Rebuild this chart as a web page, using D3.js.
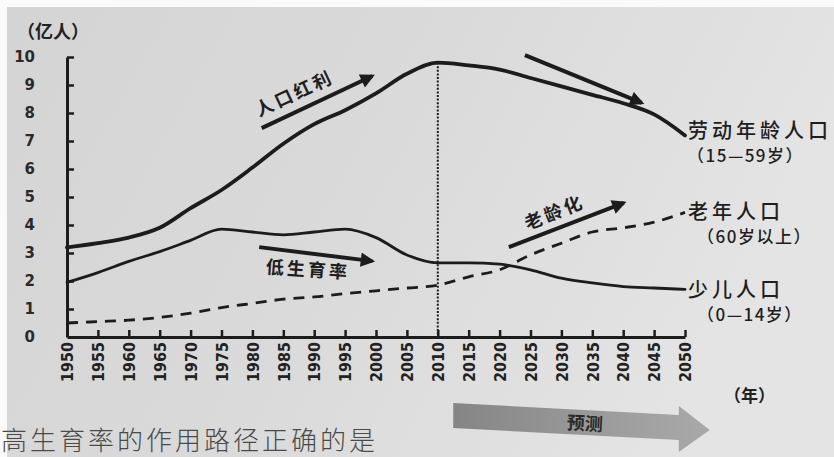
<!DOCTYPE html>
<html><head><meta charset="utf-8">
<script src="https://cdn.jsdelivr.net/npm/d3@7/dist/d3.min.js"></script>
<style>
html,body{margin:0;padding:0;background:#fff;}
svg{display:block;}
</style></head>
<body>
<svg id="c" width="834" height="457"></svg>
<script>
// ---- data (亿人) ----
const years = [1950,1955,1960,1965,1970,1975,1980,1985,1990,1995,2000,2005,2010,2015,2020,2025,2030,2035,2040,2045,2050];
const labor = [3.2,3.35,3.55,3.9,4.6,5.25,6.05,6.9,7.6,8.1,8.7,9.4,9.8,9.7,9.55,9.25,8.95,8.65,8.35,7.95,7.2];
const youth = [1.95,2.3,2.7,3.05,3.45,3.85,3.75,3.65,3.75,3.85,3.55,2.93,2.65,2.65,2.6,2.4,2.1,1.93,1.8,1.75,1.7];
const elderly = [0.5,0.55,0.6,0.7,0.85,1.05,1.2,1.35,1.43,1.55,1.65,1.75,1.85,2.15,2.4,2.93,3.35,3.75,3.9,4.1,4.45];
const yTicks = [0,1,2,3,4,5,6,7,8,9,10];
const forecastStart = 2010;
const seriesLabels = [
  {name:"劳动年龄人口", sub:"（15—59岁）"},
  {name:"老年人口", sub:"（60岁以上）"},
  {name:"少儿人口", sub:"（0—14岁）"}
];

const svg = d3.select("#c");
const W = 834, H = 457;

// background (photo paper)
const defs = svg.append("defs");
const bg = defs.append("linearGradient").attr("id","bg").attr("x1","0").attr("x2","1").attr("y1","0").attr("y2","0.3");
bg.append("stop").attr("offset","0").attr("stop-color","#d4d4d4");
bg.append("stop").attr("offset","0.5").attr("stop-color","#dadada");
bg.append("stop").attr("offset","1").attr("stop-color","#e4e4e4");
const pg = defs.append("linearGradient").attr("id","pg").attr("x1","0").attr("x2","1");
pg.append("stop").attr("offset","0").attr("stop-color","#858585");
pg.append("stop").attr("offset","0.6").attr("stop-color","#9c9c9c");
pg.append("stop").attr("offset","1").attr("stop-color","#a9a9a9");
defs.append("marker").attr("id","ah").attr("viewBox","0 0 10 10").attr("refX",8).attr("refY",5)
  .attr("markerWidth",4.2).attr("markerHeight",3.6).attr("orient","auto").attr("markerUnits","strokeWidth")
  .append("path").attr("d","M0,0 L10,5 L0,10 Z").attr("fill","#1c1c1c");

svg.append("rect").attr("width",W).attr("height",H).attr("fill","#fafafa");
svg.append("rect").attr("x",7).attr("y",7).attr("width",W-7).attr("height",H-7).attr("fill","url(#bg)");

const x = d3.scaleLinear().domain([1950,2050]).range([67,685]);
const y = d3.scaleLinear().domain([0,10]).range([337,57]);
const ink = "#1c1c1c";
const cjk = "'Noto Sans CJK SC','Noto Sans',sans-serif";

// y axis
const yAxis = d3.axisLeft(y).tickValues(yTicks).tickSizeInner(-7).tickSizeOuter(0).tickPadding(32).tickFormat(d3.format("d"));
const gy = svg.append("g").attr("transform","translate(67,0)").call(yAxis);
gy.select(".domain").attr("stroke",ink).attr("stroke-width",3);
gy.selectAll(".tick line").attr("stroke",ink).attr("stroke-width",2.5);
gy.selectAll(".tick").filter(d=>d===0).select("line").remove();
gy.selectAll(".tick text").attr("fill","#2a2a2a").attr("font-family","'DejaVu Sans',sans-serif")
  .attr("font-weight","bold").attr("font-size",15);

// x axis
const xAxis = d3.axisBottom(x).tickValues(years).tickSizeInner(-7).tickSizeOuter(0).tickPadding(0).tickFormat(d3.format("d"));
const gx = svg.append("g").attr("transform","translate(0,337)").call(xAxis);
gx.select(".domain").attr("stroke",ink).attr("stroke-width",3);
gx.selectAll(".tick line").attr("stroke",ink).attr("stroke-width",2.5);
gx.selectAll(".tick").filter(d=>d===1950).select("line").remove();
gx.selectAll(".tick text").attr("fill","#222").attr("font-family","'DejaVu Sans Condensed','DejaVu Sans',sans-serif")
  .attr("font-weight","bold").attr("font-size",16)
  .attr("transform","rotate(-90)").attr("text-anchor","end").attr("x",-5).attr("y",0).attr("dy","0.36em");

// 2010 dotted divider
const i2010 = years.indexOf(forecastStart);
svg.append("line").attr("x1",x(forecastStart)).attr("x2",x(forecastStart))
  .attr("y1",y(labor[i2010])).attr("y2",y(0))
  .attr("stroke",ink).attr("stroke-width",2).attr("stroke-dasharray","2,1.6");

// series lines
const line = d3.line().x((d,i)=>x(years[i])).y(d=>y(d)).curve(d3.curveMonotoneX);
svg.append("path").datum(labor).attr("d",line).attr("fill","none").attr("stroke",ink).attr("stroke-width",3.8).attr("stroke-linejoin","round").attr("stroke-linecap","round");
svg.append("path").datum(youth).attr("d",line).attr("fill","none").attr("stroke",ink).attr("stroke-width",2.8).attr("stroke-linejoin","round").attr("stroke-linecap","round");
svg.append("path").datum(elderly).attr("d",line).attr("fill","none").attr("stroke",ink).attr("stroke-width",2.8).attr("stroke-dasharray","11,8");

// annotation arrows (data-space positions)
const arrows = [
  {from:[1981.5,7.46], to:[1999.4,9.32]},
  {from:[1981.1,3.21], to:[1999.4,2.71]},
  {from:[2024.1,10.07], to:[2043.0,8.36]},
  {from:[2021.5,3.21], to:[2040.1,4.79]}
];
svg.selectAll(".arr").data(arrows).join("line").attr("class","arr")
  .attr("x1",d=>x(d.from[0])).attr("y1",d=>y(d.from[1]))
  .attr("x2",d=>x(d.to[0])).attr("y2",d=>y(d.to[1]))
  .attr("stroke",ink).attr("stroke-width",4).attr("marker-end","url(#ah)");

const notes = [
  {t:"人口红利", at:[1986.7,8.75], rot:-25},
  {t:"低生育率", at:[1989.0,2.46], rot:4},
  {t:"老龄化", at:[2028.8,4.5], rot:-22}
];
svg.selectAll(".note").data(notes).join("text").attr("class","note")
  .attr("transform",d=>`translate(${x(d.at[0])},${y(d.at[1])}) rotate(${d.rot})`)
  .attr("text-anchor","middle").attr("dominant-baseline","central")
  .attr("font-family",cjk).attr("font-weight","bold").attr("font-size",18).attr("letter-spacing",3)
  .attr("fill","#1e1e1e").text(d=>d.t);

// series labels
const labelY = [129, 210, 288];
const labelG = svg.append("g").attr("font-family",cjk).attr("fill","#1e1e1e");
seriesLabels.forEach((s,i)=>{
  labelG.append("text").attr("x",x(2050)+3).attr("y",labelY[i]).attr("dominant-baseline","central")
    .attr("font-size",20).attr("font-weight",500).attr("letter-spacing",4).text(s.name);
  labelG.append("text").attr("x",x(2050)+(i===0?2:12)).attr("y",labelY[i]+25).attr("dominant-baseline","central")
    .attr("font-size",17).attr("font-weight",500).attr("letter-spacing",1.5).text(s.sub);
});

// unit labels
svg.append("text").attr("x",17).attr("y",30).attr("dominant-baseline","central")
  .attr("font-family",cjk).attr("font-weight","bold").attr("font-size",18).attr("fill","#222").text("（亿人）");
svg.append("text").attr("x",724).attr("y",394).attr("dominant-baseline","central")
  .attr("font-family",cjk).attr("font-weight","bold").attr("font-size",17).attr("fill","#222").text("（年）");

// forecast arrow
const x0 = x(2012.5), x1 = x(2049), xt = x(2054);
svg.append("path")
  .attr("d",`M${x0},403 L${x1},415 L${x1},406 L${xt},430 L${x1},452 L${x1},440 L${x0},428 Z`)
  .attr("fill","url(#pg)");
svg.append("text").attr("transform",`translate(${x(2033.8)},422) rotate(3)`)
  .attr("text-anchor","middle").attr("dominant-baseline","central")
  .attr("font-family",cjk).attr("font-weight","bold").attr("font-size",18).attr("fill","#2a2a2a").text("预测");

// page text below
svg.append("text").attr("x",1).attr("y",450)
  .attr("font-family",cjk).attr("font-weight",300).attr("font-size",26).attr("letter-spacing",3)
  .attr("fill","#4a4a4a").text("高生育率的作用路径正确的是");
</script>
</body></html>
